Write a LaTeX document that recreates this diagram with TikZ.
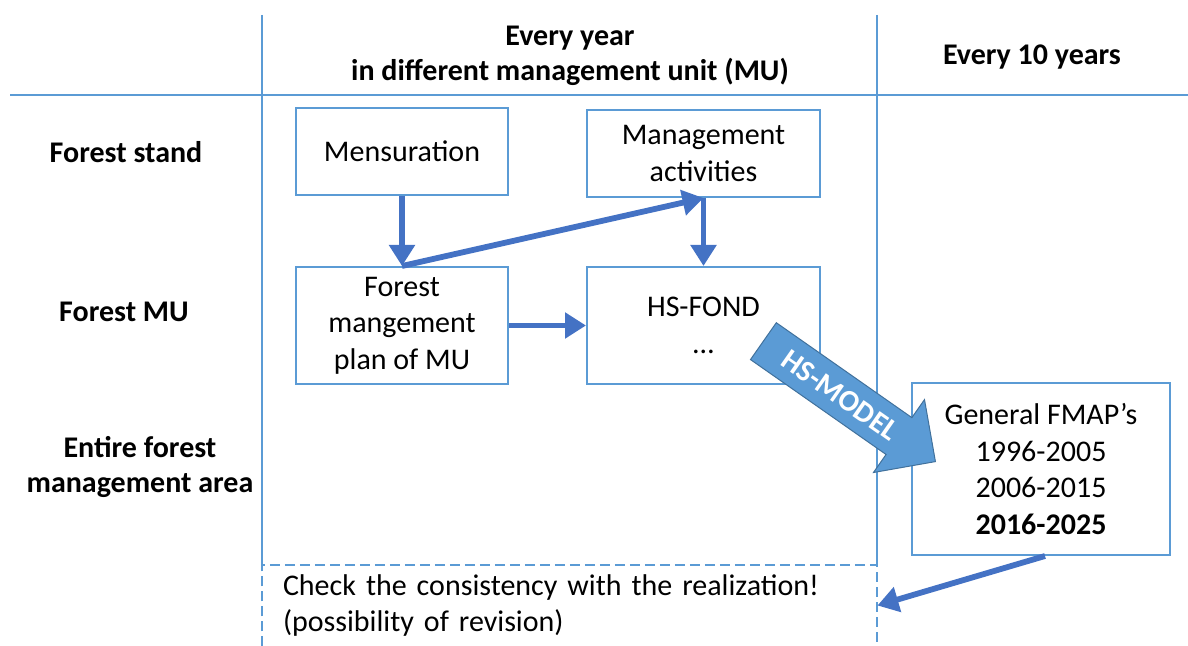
\documentclass[tikz,border=0pt]{standalone}
\usepackage{fontspec}
\setmainfont{Carlito}
\usetikzlibrary{arrows.meta,shapes.arrows}
\definecolor{linecol}{HTML}{5B9BD5}
\definecolor{flowcol}{HTML}{4472C4}
\definecolor{bigfill}{HTML}{5B9BD5}
\definecolor{bigedge}{HTML}{41719C}
\begin{document}
\begin{tikzpicture}[x=0.5pt,y=-0.5pt,
  every node/.style={font=\fontsize{15pt}{18.2pt}\selectfont, text=black},
  hdr/.style={font=\fontsize{15pt}{17.6pt}\selectfont\bfseries, align=center},
  box/.style={draw=linecol, line width=1pt, align=center, inner sep=2pt},
  grid/.style={draw=linecol, line width=0.8pt},
  dashedline/.style={draw=linecol, line width=1pt, dash pattern=on 5pt off 2.5pt},
  flow/.style={draw=flowcol, line width=2.9pt, -{Triangle[length=10.5pt,width=12.5pt]}},
  blockarrow/.style={single arrow, draw=bigedge, fill=bigfill, line width=0.5pt,
    single arrow head extend=11pt, single arrow tip angle=90,
    minimum height=105pt, inner ysep=6pt, text height=10pt, text depth=0pt,
    font=\fontsize{15pt}{18pt}\selectfont\bfseries, text=white}
]
\useasboundingbox (0,0) rectangle (1188,646);

% table grid
\draw[grid] (10,95) -- (1188,95);
\draw[grid] (262,15) -- (262,565);
\draw[grid] (877,15) -- (877,565);

% column and row headings
\node[hdr] (colyear) at (570,56) {Every year\\in different management unit (MU)};
\node[hdr] (coldecade) at (1032,57) {Every 10 years};
\node[hdr] (rowstand) at (126,152) {Forest stand};
\node[hdr] (rowmu) at (124,312) {Forest MU};
\node[hdr] (rowarea) at (140,467) {Entire forest\\management area};

% process boxes
\node[box, minimum width=106pt, minimum height=43.5pt] (mens) at (402,151.5) {Mensuration};
\node[box, minimum width=116.5pt, minimum height=43.5pt] (mgmt) at (703.5,153.5) {Management\\activities};
\node[box, minimum width=106pt, minimum height=58.5pt] (plan) at (402,325.5) {Forest\\mangement\\plan of MU};
\node[box, minimum width=116.5pt, minimum height=58.5pt] (hsfond) at (703.5,325.5) {HS-FOND\\…};
\node[box, minimum width=129pt, minimum height=86pt] (fmap) at (1041,469)
  {General FMAP’s\\1996-2005\\2006-2015\\\textbf{2016-2025}};

% revision check area
\node[minimum width=307.5pt, minimum height=40.5pt, inner xsep=10.5pt,
      text width=286.5pt, align=left] (check) at (569.5,605.5)
  {Check the consistency with the realization!\\(possibility of revision)};
\draw[dashedline] (check.south west) -- (check.north west) -- (check.north east) -- (check.south east);

% flows
\draw[flow] (mens.south) -- (plan.north);
\draw[flow] (plan.north) -- (mgmt.south);
\draw[flow] (mgmt.south) -- (hsfond.north);
\draw[flow] (plan.east) -- (hsfond.west);
\draw[flow] ([xshift=2pt]fmap.south) -- (check.east);

% model block arrow
\node[blockarrow, rotate=-35, anchor=tip] (hsmodel) at (936,462) {HS-MODEL};
\end{tikzpicture}
\end{document}
